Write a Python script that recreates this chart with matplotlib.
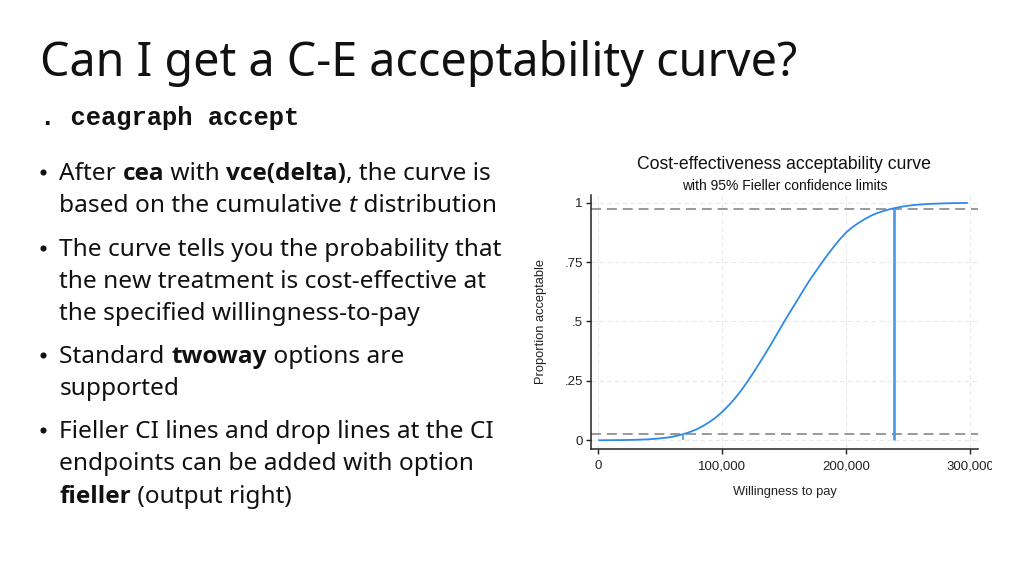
import matplotlib
matplotlib.use("Agg")
import os
import matplotlib.pyplot as plt
from matplotlib.lines import Line2D
from matplotlib.transforms import Bbox
from matplotlib.ticker import FixedLocator
from matplotlib.font_manager import FontProperties, findfont

# ---------------- data ----------------
wtp = [0, 5000, 10000, 15000, 20000, 25000, 30000, 35000, 40000, 45000,
       50000, 55000, 60000, 65000, 70000, 75000, 80000, 85000, 90000, 95000,
       100000, 105000, 110000, 115000, 120000, 125000, 130000, 135000, 140000, 145000,
       150000, 155000, 160000, 165000, 170000, 175000, 180000, 185000, 190000, 195000,
       200000, 205000, 210000, 215000, 220000, 225000, 230000, 235000, 240000, 245000,
       250000, 255000, 260000, 265000, 270000, 275000, 280000, 285000, 290000, 295000,
       298000]
prop = [0.000, 0.0003, 0.0005, 0.0008, 0.001, 0.0015, 0.002, 0.003, 0.004, 0.006,
        0.008, 0.011, 0.015, 0.021, 0.028, 0.037, 0.048, 0.062, 0.078, 0.097,
        0.120, 0.146, 0.175, 0.208, 0.245, 0.284, 0.325, 0.367, 0.410, 0.455,
        0.500, 0.543, 0.585, 0.628, 0.670, 0.708, 0.745, 0.781, 0.815, 0.847,
        0.875, 0.897, 0.915, 0.931, 0.945, 0.956, 0.965, 0.972, 0.978, 0.983,
        0.987, 0.990, 0.992, 0.994, 0.995, 0.996, 0.997, 0.9975, 0.998, 0.9985,
        0.999]
ci_levels = [0.025, 0.975]
ci_wtp = [68000, 238300]
x_ticks = [0, 100000, 200000, 300000]
x_tick_labels = ["0", "100,000", "200,000", "300,000"]
y_ticks = [0, 0.25, 0.5, 0.75, 1]
y_tick_labels = ["0", ".25", ".5", ".75", "1"]

slide_title = "Can I get a C-E acceptability curve?"
command = ". ceagraph accept"
chart_title = "Cost-effectiveness acceptability curve"
chart_subtitle = "with 95% Fieller confidence limits"
x_label = "Willingness to pay"
y_label = "Proportion acceptable"
bullets = [
    [[("After ", "normal", "normal"), ("cea", "bold", "normal"), (" with ", "normal", "normal"),
      ("vce(delta)", "bold", "normal"), (", the curve is", "normal", "normal")],
     [("based on the cumulative ", "normal", "normal"), ("t", "normal", "italic"),
      (" distribution", "normal", "normal")]],
    [[("The curve tells you the probability that", "normal", "normal")],
     [("the new treatment is cost-effective at", "normal", "normal")],
     [("the specified willingness-to-pay", "normal", "normal")]],
    [[("Standard ", "normal", "normal"), ("twoway", "bold", "normal"), (" options are", "normal", "normal")],
     [("supported", "normal", "normal")]],
    [[("Fieller CI lines and drop lines at the CI", "normal", "normal")],
     [("endpoints can be added with option", "normal", "normal")],
     [("fieller", "bold", "normal"), (" (output right)", "normal", "normal")]],
]
bullet_baselines = [[180.0, 212.5], [256, 288, 320], [363.3, 395.3], [438.3, 470.5, 502.7]]

# ---------------- fonts ----------------
SLIDE_FONT = ["Noto Sans", "DejaVu Sans"]

def bold_family():
    for fam in ["Noto Sans", "Open Sans", "Lato", "Roboto", "Liberation Sans"]:
        try:
            path = findfont(FontProperties(family=fam, weight="bold"), fallback_to_default=False)
        except Exception:
            continue
        name = os.path.basename(path).lower()
        if "bold" in name and fam.replace(" ", "").lower() in name.replace("-", "").replace("_", ""):
            return [fam, "DejaVu Sans"]
    return ["DejaVu Sans"]

BOLD_FONT = bold_family()

# ---------------- figure ----------------
W, H = 1024, 575
fig = plt.figure(figsize=(W / 100, H / 100), dpi=100)
fig.patch.set_facecolor("white")
renderer = fig.canvas.get_renderer()

def fy(py):
    return 1 - py / H

def fx(px):
    return px / W

fig.text(fx(40), fy(76), slide_title, fontsize=33.6, family=SLIDE_FONT,
         color="#111111", va="baseline", ha="left")
fig.text(fx(40), fy(125), command, fontsize=18.4, family=["Liberation Mono", "DejaVu Sans Mono"],
         fontweight="bold", color="#111111", va="baseline", ha="left")

def draw_segments(x0, base, segs, size=17.6):
    x = x0
    for s, w, st in segs:
        fam = BOLD_FONT if w == "bold" else SLIDE_FONT
        t = fig.text(fx(x), fy(base), s, fontsize=size, family=fam,
                     fontweight=w, fontstyle=st, color="#111111",
                     va="baseline", ha="left")
        bb = t.get_window_extent(renderer=renderer)
        x = x + bb.width

for lines, bases in zip(bullets, bullet_baselines):
    fig.add_artist(Line2D([fx(43.3)], [fy(bases[0] - 8)], marker="o", ms=4.4,
                          color="#111111", mew=0, transform=fig.transFigure))
    for segs, b in zip(lines, bases):
        draw_segments(59.3, b, segs)

# ---------------- chart ----------------
left, right = 590.7, 978.0
top, bottom = 195.0, 448.7
ax = fig.add_axes([fx(left), fy(bottom), (right - left) / W, (bottom - top) / H])
ax.set_xlim(-6130, 306200)
ax.set_ylim(-0.0354, 1.032)

CH = ["Liberation Sans", "Arial", "DejaVu Sans"]
blue = "#2f8ae6"
grey = "#888888"

for yt in y_ticks:
    ax.axhline(yt, color="#e9e9e9", lw=0.8, ls=(0, (4, 3)), zorder=0)
for xt in x_ticks:
    ax.axvline(xt, color="#e9e9e9", lw=0.8, ls=(0, (4, 3)), zorder=0)

for lv in ci_levels:
    ax.axhline(lv, color=grey, lw=1.2, ls=(0, (6, 3.5)), zorder=2)

ax.plot(wtp, prop, color=blue, lw=1.3, zorder=3, solid_capstyle="butt")
ax.vlines(ci_wtp, [0, 0], ci_levels, color="#4a98e6", lw=[1.2, 1.9], zorder=3)

ax.spines["top"].set_visible(False)
ax.spines["right"].set_visible(False)
for sp in ("left", "bottom"):
    ax.spines[sp].set_color("#222222")
    ax.spines[sp].set_linewidth(1.1)

ax.xaxis.set_major_locator(FixedLocator(x_ticks))
ax.set_xticklabels(x_tick_labels)
ax.yaxis.set_major_locator(FixedLocator(y_ticks))
ax.set_yticklabels(y_tick_labels)
ax.tick_params(axis="both", direction="out", length=3.8, width=1.0, color="#222222",
               labelsize=9.5, labelcolor="#222222", pad=2)
for lab in ax.get_xticklabels() + ax.get_yticklabels():
    lab.set_family(CH)
ax.tick_params(axis="x", pad=4.5)

fig.text(fx(785), fy(495), x_label, fontsize=9.3, family=CH, color="#222222",
         ha="center", va="baseline")
fig.text(fx(540.7), fy(321.7), y_label, fontsize=9.3, family=CH, color="#222222",
         ha="center", va="center", rotation=90)

fig.text(fx(784), fy(169), chart_title, fontsize=12.7,
         family=CH, color="#111111", ha="center", va="baseline")
fig.text(fx(784.5), fy(189.5), chart_subtitle, fontsize=10.0,
         family=CH, color="#111111", ha="center", va="baseline")

# image of the chart is cropped on its right side
clip = Bbox.from_extents(0, 0, 991.5, H)
for lab in ax.get_xticklabels():
    lab.set_clip_box(clip)
    lab.set_clip_on(True)

fig.savefig("out.png", dpi=100, facecolor="white")
